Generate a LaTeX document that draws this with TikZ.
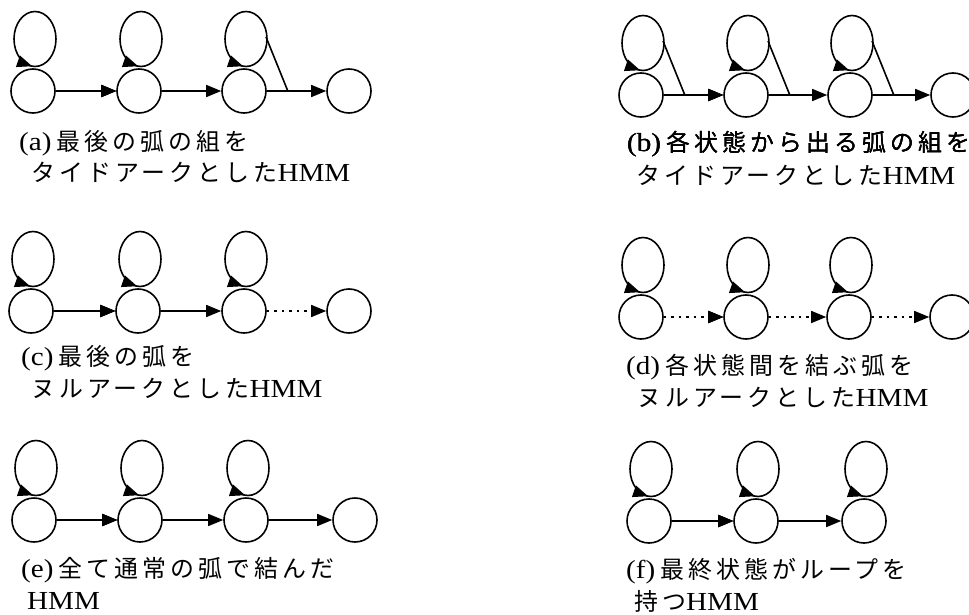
\documentclass[tikz,border=0pt]{standalone}
\usepackage{fontspec}
\setmainfont{Liberation Serif}[FakeStretch=1.12]
\newfontfamily\jp{Noto Sans CJK JP}[Scale=0.92,LetterSpace=17]
\usetikzlibrary{arrows.meta,calc}

\tikzset{
  state/.style={circle, draw, line width=1.6pt, minimum size=44pt, inner sep=0pt},
  arc/.style={line width=1.6pt, -{Triangle[length=15pt,width=12pt]}},
  nullarc/.style={arc, dash pattern=on 2.5pt off 5pt},
  loopline/.style={line width=1.6pt},
  looptip/.style={line width=1pt, -{Triangle[length=15pt,width=12pt]}},
  captext/.style={anchor=base west, inner sep=0pt, font=\fontsize{26}{30}\selectfont},
}

% self-transition drawn as an ellipse standing on top of the state,
% with its arrowhead on the lower left, pointing towards the bottom
\newcommand\selfloop[1]{%
  \draw[loopline] ($(#1)+(2,-52)$) ellipse[x radius=21, y radius=27.5];
  \draw[looptip] ($(#1)+(2,-52)+(112:21 and 27.5)$) -- ($(#1)+(2,-52)+(98:21 and 27.5)$);
}
% tie between a self-loop and the outgoing arc of the same state
\newcommand\tiedarc[1]{%
  \coordinate (#1lp) at ($(#1)+(22,-54)$);
  \coordinate (#1tp) at ($(#1.east)+(21,0)$);
  \draw[loopline] (#1lp) -- (#1tp);
}

\begin{document}
\begin{tikzpicture}[x=1pt,y=-1pt]
\useasboundingbox (0,0) rectangle (969,615);
\clip (0,0) rectangle (969,615);

% (a) tied arcs on the last pair
\foreach \n/\x in {1/33,2/139,3/244,4/349} \node[state] (a\n) at (\x,91) {};
\foreach \n in {1,2,3} \selfloop{a\n}
\draw[arc] (a1) -- (a2);
\draw[arc] (a2) -- (a3);
\draw[arc] (a3) -- (a4);
\tiedarc{a3}
\node[captext] (capa1) at (19,150) {(a)\hspace{5pt}{\jp 最後の弧の組を}};
\node[captext] (capa2) at (31,182) {{\jp タイドアークとした}HMM};

% (b) tied arcs leaving every state
\foreach \n/\x in {1/641,2/746,3/850,4/953} \node[state] (b\n) at (\x,95) {};
\foreach \n in {1,2,3} \selfloop{b\n}
\draw[arc] (b1) -- (b2);
\draw[arc] (b2) -- (b3);
\draw[arc] (b3) -- (b4);
\foreach \n in {1,2,3} \tiedarc{b\n}
\node[captext] (capb1) at (627,152) {(b)\hspace{5pt}{\jp 各状態から出る弧の組を}};
\node[captext] (capb2) at (636,184) {{\jp タイドアークとした}HMM};

% (c) null arc at the end
\foreach \n/\x in {1/31,2/138,3/244,4/349} \node[state] (c\n) at (\x,311) {};
\foreach \n in {1,2,3} \selfloop{c\n}
\draw[arc] (c1) -- (c2);
\draw[arc] (c2) -- (c3);
\draw[nullarc] (c3) -- (c4);
\node[captext] (capc1) at (21,365) {(c)\hspace{5pt}{\jp 最後の弧を}};
\node[captext] (capc2) at (31,397) {{\jp ヌルアークとした}HMM};

% (d) null arcs between all states
\foreach \n/\x in {1/641,2/746,3/849,4/952} \node[state] (d\n) at (\x,317) {};
\foreach \n in {1,2,3} \selfloop{d\n}
\draw[nullarc] (d1) -- (d2);
\draw[nullarc] (d2) -- (d3);
\draw[nullarc] (d3) -- (d4);
\node[captext] (capd1) at (626,374) {(d)\hspace{5pt}{\jp 各状態間を結ぶ弧を}};
\node[captext] (capd2) at (637,406) {{\jp ヌルアークとした}HMM};

% (e) ordinary arcs only
\foreach \n/\x in {1/34,2/140,3/246,4/355} \node[state] (e\n) at (\x,520) {};
\foreach \n in {1,2,3} \selfloop{e\n}
\draw[arc] (e1) -- (e2);
\draw[arc] (e2) -- (e3);
\draw[arc] (e3) -- (e4);
\node[captext] (cape1) at (21,577) {(e)\hspace{5pt}{\jp 全て通常の弧で結んだ}};
\node[captext] (cape2) at (27,609) {HMM};

% (f) final state with a self-loop
\foreach \n/\x in {1/649,2/756,3/864} \node[state] (f\n) at (\x,521) {};
\foreach \n in {1,2,3} \selfloop{f\n}
\draw[arc] (f1) -- (f2);
\draw[arc] (f2) -- (f3);
\node[captext] (capf1) at (626,578) {(f)\hspace{5pt}{\jp 最終状態がループを}};
\node[captext] (capf2) at (634,610) {{\jp 持つ}HMM};
\end{tikzpicture}
\end{document}
